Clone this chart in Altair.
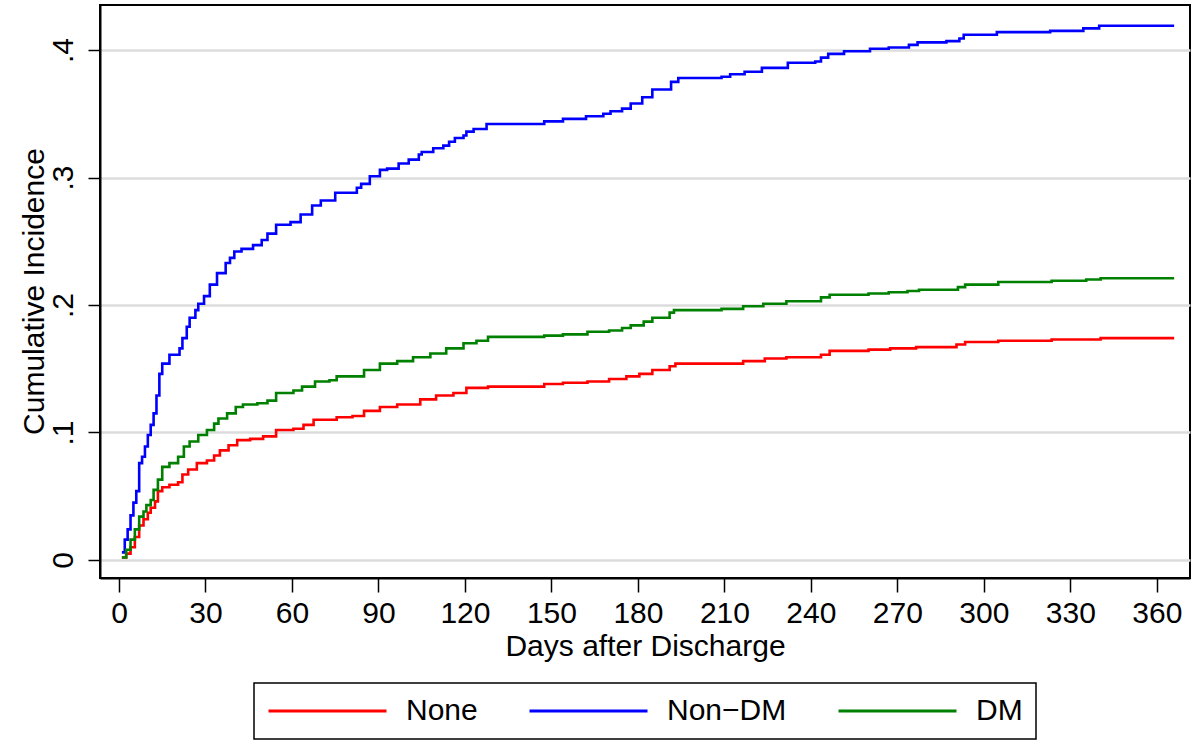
import altair as alt
import pandas as pd

# ---- data (step points: day, cumulative incidence) ----
none_days = [1, 2.5, 4, 5.5, 7, 8.5, 10, 11, 12.5, 13.5, 15, 17.5, 20.5, 22, 24, 27, 30.5, 33, 35, 38,
             41, 45.5, 50, 54.5, 60.5, 64, 67.5, 75.5, 81, 85, 90.5, 96.5, 104.5, 110, 116, 120.5, 128,
             147.5, 154, 162.5, 170, 176, 180.5, 185, 191, 193, 216.5, 224, 231.5, 243.5, 246.5, 260,
             267.5, 276.5, 290.5, 293.5, 305, 323.5, 340.5, 366]
none_vals = [0.002, 0.005, 0.010, 0.018, 0.027, 0.032, 0.037, 0.041, 0.046, 0.054, 0.057, 0.059, 0.061,
             0.067, 0.071, 0.076, 0.078, 0.082, 0.086, 0.090, 0.094, 0.095, 0.097, 0.102, 0.103, 0.106,
             0.110, 0.112, 0.113, 0.117, 0.120, 0.122, 0.126, 0.129, 0.131, 0.135, 0.136, 0.138, 0.139,
             0.140, 0.142, 0.144, 0.146, 0.149, 0.152, 0.154, 0.156, 0.158, 0.159, 0.161, 0.164, 0.165,
             0.166, 0.167, 0.169, 0.171, 0.172, 0.173, 0.174, 0.174]

nondm_days = [1, 2, 3, 4, 5, 6, 7, 8, 9, 10, 11, 12, 13, 14, 15, 17.5, 21, 22, 23.5, 24.5, 26.5, 27.5,
              29.5, 31.5, 34, 37, 38.5, 40, 42.5, 46.5, 49.5, 51.5, 54.5, 59.5, 63, 67, 70, 75, 82.5,
              84, 87, 90.5, 93, 97, 100.5, 104, 105, 109, 112.5, 114.5, 116.5, 119.5, 120.5, 123, 127.5,
              147.5, 154, 162, 168, 170.5, 174.5, 177.5, 181.5, 185, 191.5, 194, 209, 212, 217, 223,
              232, 241.5, 243.5, 246, 251.5, 260.5, 267, 274, 277, 287, 291.5, 293, 304.5, 323, 334.5,
              340, 366]
nondm_vals = [0.006, 0.016, 0.024, 0.035, 0.045, 0.054, 0.076, 0.081, 0.089, 0.098, 0.106, 0.115, 0.129,
              0.146, 0.154, 0.161, 0.166, 0.174, 0.183, 0.190, 0.196, 0.201, 0.207, 0.216, 0.225, 0.233,
              0.237, 0.242, 0.244, 0.247, 0.251, 0.256, 0.263, 0.265, 0.271, 0.278, 0.282, 0.288, 0.292,
              0.295, 0.301, 0.306, 0.307, 0.311, 0.314, 0.318, 0.320, 0.323, 0.325, 0.328, 0.331, 0.333,
              0.336, 0.338, 0.342, 0.344, 0.346, 0.348, 0.350, 0.352, 0.354, 0.358, 0.363, 0.369, 0.375,
              0.378, 0.379, 0.381, 0.383, 0.386, 0.390, 0.391, 0.394, 0.397, 0.399, 0.401, 0.402, 0.404,
              0.406, 0.407, 0.409, 0.412, 0.414, 0.415, 0.417, 0.419, 0.419]

dm_days = [1, 2.5, 4, 5.5, 7, 8.5, 9.5, 11, 12, 13.5, 15, 17.5, 20.5, 22.5, 24.5, 27.5, 30.5, 33, 34.5,
           37.5, 40.5, 43, 48, 51.5, 54.5, 60.5, 63.5, 68, 73, 75.5, 85, 90.5, 96.5, 102, 108, 113.5,
           119.5, 124, 128, 147.5, 154, 162.5, 170, 174.5, 177.5, 182, 185, 191, 192.5, 209, 216.5,
           223.5, 231.5, 243.5, 246.5, 260, 267, 273.5, 277.5, 291, 293.5, 305, 323.5, 335.5, 340.5, 366]
dm_vals = [0.002, 0.008, 0.016, 0.024, 0.034, 0.038, 0.043, 0.047, 0.055, 0.063, 0.073, 0.076, 0.081,
           0.089, 0.093, 0.098, 0.102, 0.107, 0.111, 0.115, 0.120, 0.122, 0.123, 0.125, 0.131, 0.133,
           0.136, 0.140, 0.141, 0.144, 0.149, 0.154, 0.156, 0.159, 0.162, 0.166, 0.170, 0.172, 0.175,
           0.176, 0.177, 0.179, 0.180, 0.182, 0.184, 0.187, 0.190, 0.194, 0.196, 0.197, 0.199, 0.201,
           0.203, 0.206, 0.208, 0.209, 0.210, 0.211, 0.212, 0.214, 0.216, 0.218, 0.219, 0.220, 0.221,
           0.221]

groups = ["None", "Non\u2212DM", "DM"]
colors = ["#ff0000", "#0000ff", "#008000"]
x_ticks = [0, 30, 60, 90, 120, 150, 180, 210, 240, 270, 300, 330, 360]
y_ticks = [0, 0.1, 0.2, 0.3, 0.4]

rows = []
for g, ds, vs in zip(groups, [none_days, nondm_days, dm_days], [none_vals, nondm_vals, dm_vals]):
    for d, v in zip(ds, vs):
        rows.append({"group": g, "day": d, "ci": v})
df = pd.DataFrame(rows)

FONT = "Liberation Sans"

chart = alt.Chart(df).mark_line(interpolate="step-after", strokeWidth=2.6).encode(
    x=alt.X("day:Q",
            scale=alt.Scale(domain=[-6.59, 371.5], nice=False, zero=False),
            axis=alt.Axis(values=x_ticks, grid=False, tickSize=14, tickWidth=1.5,
                          labelPadding=30, labelBaseline="alphabetic", labelFontSize=30,
                          title="Days after Discharge", titleFontSize=30, titleFontWeight="normal",
                          titleBaseline="alphabetic", titleAlign="center", titleX=545, titleY=77)),
    y=alt.Y("ci:Q",
            scale=alt.Scale(domain=[-0.01412, 0.4353], nice=False, zero=False),
            axis=alt.Axis(values=y_ticks, grid=True, gridColor="#dcdcdc", gridWidth=2.5,
                          tickSize=12, tickWidth=1.5, labelAngle=270, labelAlign="center",
                          labelBaseline="alphabetic", labelPadding=16, labelFontSize=30,
                          labelExpr="datum.value == 0 ? '0' : '.' + round(datum.value * 10)",
                          title="Cumulative Incidence", titleFontSize=30, titleFontWeight="normal",
                          titleAngle=270, titleBaseline="alphabetic", titleAlign="center",
                          titleX=-57, titleY=286)),
    color=alt.Color("group:N",
                    scale=alt.Scale(domain=groups, range=colors),
                    sort=groups,
                    legend=alt.Legend(orient="none", legendX=154, legendY=678, direction="horizontal",
                                      title=None, symbolType="stroke", symbolSize=13924,
                                      symbolStrokeWidth=3, labelFontSize=30, labelFont=FONT,
                                      labelColor="black", labelOffset=18, columnPadding=50,
                                      padding=13, strokeColor="black", clipHeight=30)),
).properties(
    width=1090, height=573,
    autosize=alt.AutoSizeParams(type="none"),
    padding={"left": 100, "top": 5, "right": 5, "bottom": 163},
    background="white",
).configure_view(
    stroke="black", strokeWidth=2
).configure_axis(
    domainColor="black", domainWidth=2, tickColor="black",
    labelFont=FONT, titleFont=FONT, labelColor="black", titleColor="black"
).configure_legend(
    strokeWidth=1.5
)

chart.save("out.html", embed_options={"renderer": "svg", "actions": False})
